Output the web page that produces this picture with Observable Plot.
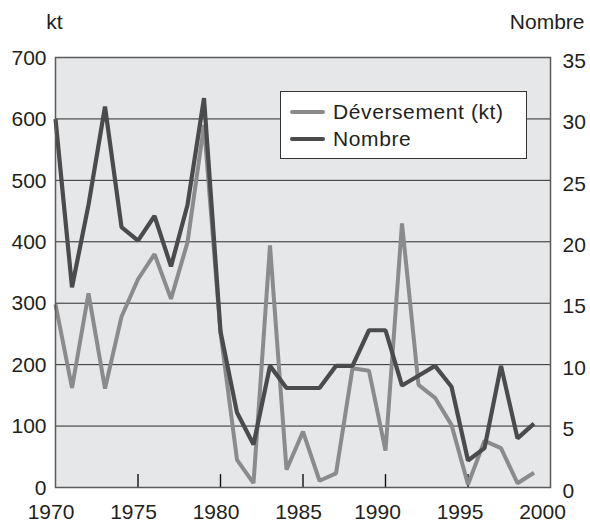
<!DOCTYPE html>
<html>
<head>
<meta charset="utf-8">
<script src="https://cdn.jsdelivr.net/npm/d3@7"></script>
<script src="https://cdn.jsdelivr.net/npm/@observablehq/plot@0.6"></script>
<style>
  html, body { margin: 0; padding: 0; background: #fff; }
  #wrap { position: relative; width: 590px; height: 522px; font-family: "Liberation Sans", Arial, sans-serif; color: #231f20; }
  #legend { position: absolute; left: 280px; top: 91px; width: 247px; height: 68px; background: #fff; border: 1px solid #333; box-sizing: border-box; }
  .row { position: absolute; left: 0; height: 26px; display: flex; align-items: center; font-size: 21px; letter-spacing: 0.6px; }
  .sw { display: inline-block; width: 35px; height: 4px; border-radius: 2px; margin-left: 9px; margin-right: 8px; }
</style>
</head>
<body>
<div id="wrap"></div>
<script>
// Categories (years) and series values
const years = [1970, 1971, 1972, 1973, 1974, 1975, 1976, 1977, 1978, 1979,
               1980, 1981, 1982, 1983, 1984, 1985, 1986, 1987, 1988, 1989,
               1990, 1991, 1992, 1993, 1994, 1995, 1996, 1997, 1998, 1999];
const deversement = [298, 162, 316, 161, 278, 339, 380, 307, 399, 590,
                     252, 45, 7, 394, 29, 91, 11, 23, 194, 190,
                     60, 430, 167, 146, 102, 5, 76, 64, 7, 24];
const nombre = [30, 16.3, 23, 31, 21.2, 20.1, 22.1, 18, 23, 31.7,
                12.7, 6.1, 3.5, 9.9, 8.1, 8.1, 8.1, 9.9, 9.9, 12.8,
                12.8, 8.3, 9.1, 9.9, 8.2, 2.2, 3.2, 9.9, 4.0, 5.2];
const xTicksA = [1970, 1975, 1980, 1985];
const xTicksB = [1990, 1995, 2000];
const innerTicks = [1975, 1980, 1985, 1990, 1995];
const leftTicks = [0, 100, 200, 300, 400, 500, 600, 700];
const rightTicks = [0, 5, 10, 15, 20, 25, 30, 35];
const gridLines = [100, 200, 300, 400, 500, 600];
const seriesNames = ["Déversement (kt)", "Nombre"];
const seriesColors = ["#8b8b8d", "#4b4b4d"];
const ratio = 700 / 35; // right axis (Nombre) mapped onto left axis (kt)

const table = years.map((y, i) => ({year: y, kt: deversement[i], n: nombre[i]}));

const chart = Plot.plot({
  width: 590,
  height: 522,
  marginLeft: 55,
  marginRight: 40,
  marginTop: 57,
  marginBottom: 35,
  style: {fontFamily: "'Liberation Sans', Arial, sans-serif", fontSize: "21px", color: "#231f20", background: "transparent"},
  x: {domain: [1970, 2000], axis: null, label: null},
  y: {domain: [0, 700], axis: null, label: null},
  marks: [
    Plot.frame({fill: "#e6e7e8", stroke: "none"}),
    Plot.ruleY(gridLines, {stroke: "#2a2a2a", strokeWidth: 1}),
    Plot.ruleX(innerTicks, {y1: 0, y2: 21, stroke: "#111", strokeWidth: 1.4}),
    Plot.line(table, {x: "year", y: "kt", stroke: seriesColors[0], strokeWidth: 4, strokeLinejoin: "miter", strokeLinecap: "butt"}),
    Plot.line(table, {x: "year", y: d => d.n * ratio, stroke: seriesColors[1], strokeWidth: 4.2, strokeLinejoin: "miter", strokeLinecap: "butt"}),
    Plot.frame({stroke: "#5a5a5a", strokeWidth: 1.5}),
    Plot.axisX(xTicksA, {label: null, tickSize: 0, tickPadding: 17, dx: -4.5, tickFormat: d => String(d), fontSize: 21}),
    Plot.axisX(xTicksB, {label: null, tickSize: 0, tickPadding: 17, dx: -8, tickFormat: d => String(d), fontSize: 21}),
    Plot.axisY(leftTicks, {label: null, anchor: "left", tickSize: 0, tickPadding: 9, dy: 0.5, tickFormat: d => String(d), fontSize: 21}),
    Plot.axisY(rightTicks.map(d => d * ratio), {label: null, anchor: "right", tickSize: 0, tickPadding: 12, dy: 3.5, tickFormat: d => String(d / ratio), fontSize: 21}),
    Plot.text(["kt"], {frameAnchor: "top-left", textAnchor: "middle", lineAnchor: "middle", dx: -1, dy: -35, fontSize: 21, fill: "#231f20"}),
    Plot.text(["Nombre"], {frameAnchor: "top-right", textAnchor: "middle", lineAnchor: "middle", dx: -3.3, dy: -35, fontSize: 21, fill: "#231f20", style: "letter-spacing:0.8px"})
  ]
});

const wrap = document.getElementById("wrap");
wrap.appendChild(chart);

const legend = document.createElement("div");
legend.id = "legend";
seriesNames.forEach((name, i) => {
  const row = document.createElement("div");
  row.className = "row";
  row.style.top = (i === 0 ? 7 : 34) + "px";
  const sw = document.createElement("span");
  sw.className = "sw";
  sw.style.background = seriesColors[i];
  const label = document.createElement("span");
  label.textContent = name;
  row.appendChild(sw);
  row.appendChild(label);
  legend.appendChild(row);
});
wrap.appendChild(legend);
</script>
</body>
</html>
